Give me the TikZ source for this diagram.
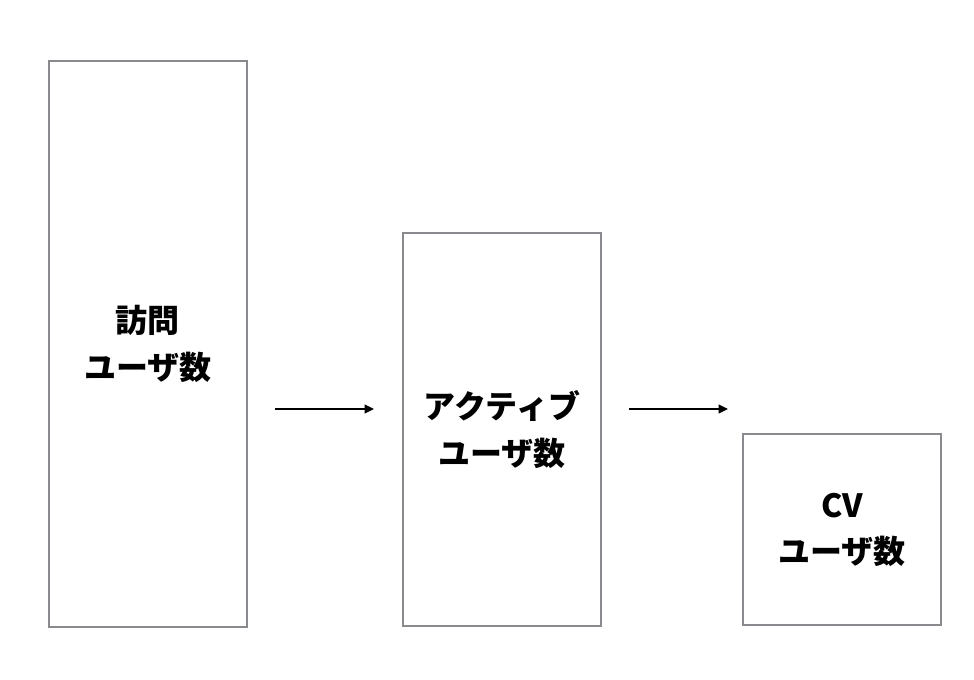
\documentclass[tikz,border=0pt]{standalone}
\usepackage{fontspec}
\newfontfamily\jpfont{Noto Sans CJK JP}
\usetikzlibrary{arrows.meta,positioning}
\definecolor{boxgray}{HTML}{8A8A8E}
\tikzset{
  stage/.style={
    draw=boxgray,
    line width=1.5pt,
    rectangle,
    minimum width=149pt,
    align=center,
    font=\jpfont\bfseries\fontsize{24}{35}\selectfont
  },
  line/.style={
    -{Triangle[length=7pt,width=6.5pt]},
    line width=1.5pt
  }
}
\begin{document}
\begin{tikzpicture}[x=0.75pt,y=-0.75pt]

\useasboundingbox (0,0) rectangle (974,680);

\node[stage, minimum height=424pt, anchor=north west] (visit) at (47.5,60.5) {訪問\\ユーザ数};
\node[stage, minimum height=294pt, anchor=north west] (active) at (401.5,232.5) {アクティブ\\ユーザ数};
\node[stage, minimum height=143pt, anchor=north west] (cv) at (741.5,433.5) {CV\\ユーザ数};

\coordinate (a1) at (275,409);
\coordinate (b1) at (374,409);
\coordinate (a2) at (629,409);
\coordinate (b2) at (728,409);

\draw[line] (a1) -- (b1);
\draw[line] (a2) -- (b2);

\end{tikzpicture}
\end{document}
